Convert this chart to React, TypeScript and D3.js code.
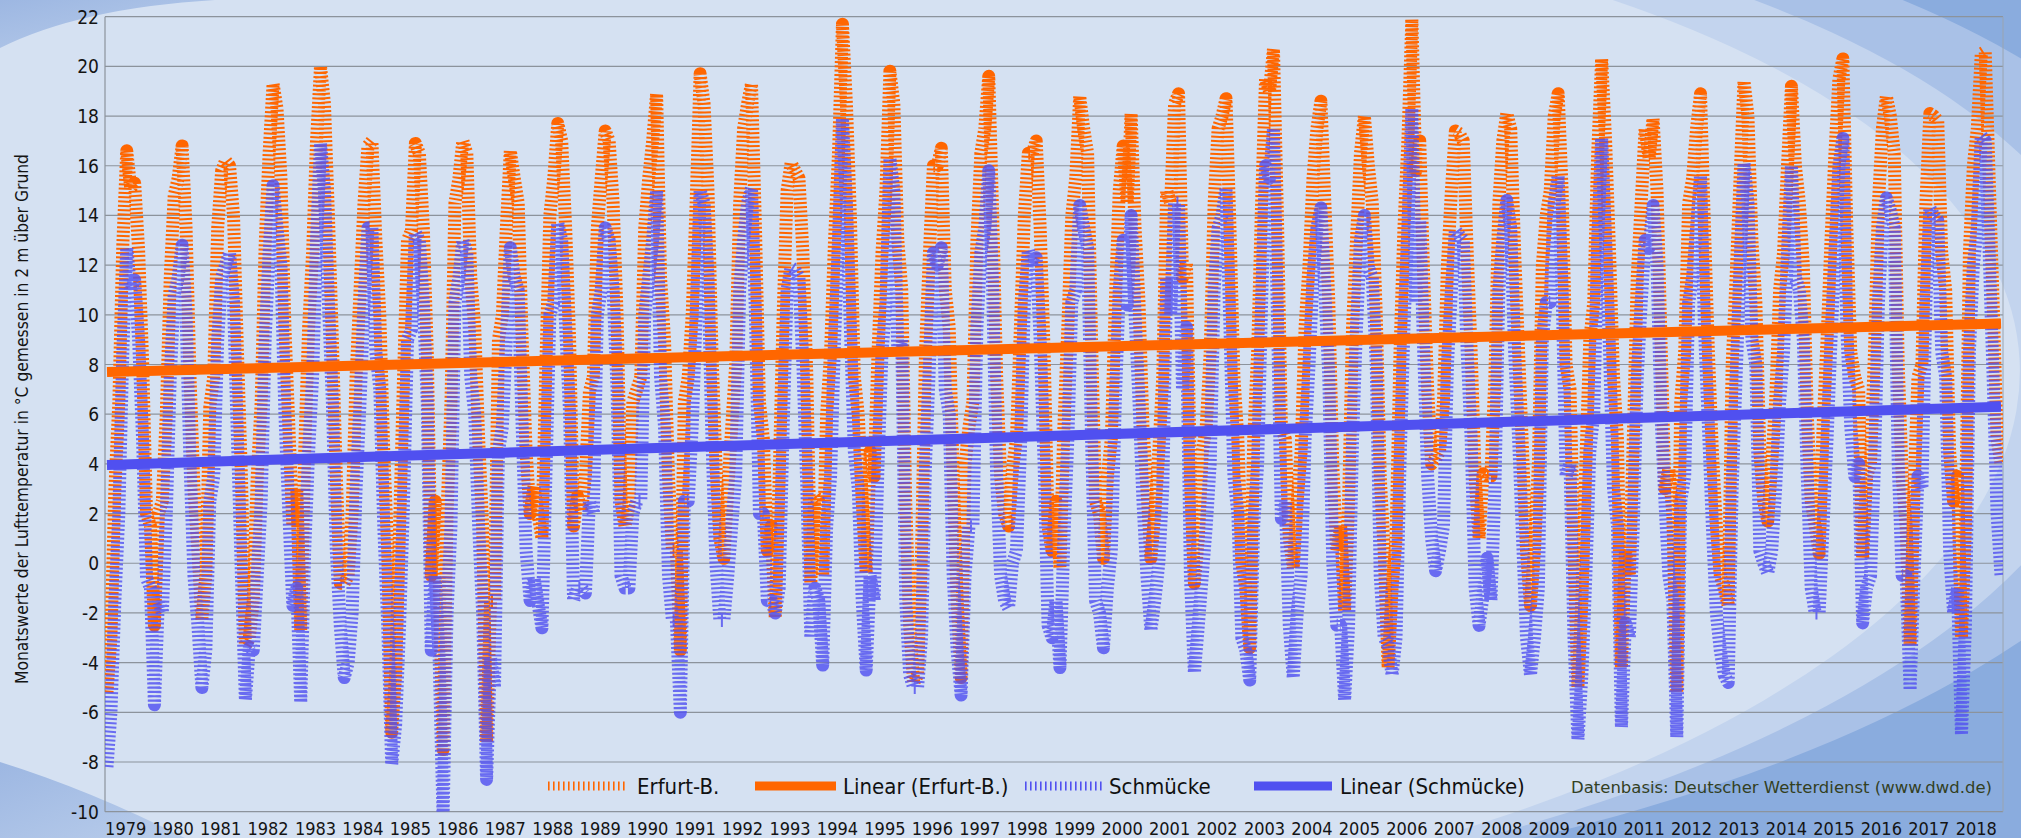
import React from "react";
import * as d3 from "d3";

// ---------- DATA (monthly means, °C) ----------
const yearLabels = ["1979","1980","1981","1982","1983","1984","1985","1986","1987","1988","1989","1990","1991","1992","1993","1994","1995","1996","1997","1998","1999","2000","2001","2002","2003","2004","2005","2006","2007","2008","2009","2010","2011","2012","2013","2014","2015","2016","2017","2018"];

const yTicks = [-10, -8, -6, -4, -2, 0, 2, 4, 6, 8, 10, 12, 14, 16, 18, 20, 22];

const erfurtByYear = [
  [-5.2, -3.0, 3.0, 6.5, 12.8, 16.6, 15.1, 15.3, 12.6, 8.2, 2.0, 1.5],
  [-2.5, 2.0, 2.5, 6.0, 11.5, 14.8, 15.5, 16.8, 13.5, 7.5, 3.0, 0.5],
  [-2.3, -0.5, 6.3, 7.5, 13.5, 15.8, 16.2, 16.0, 14.0, 8.5, 3.5, -3.3],
  [-3.0, -1.5, 3.5, 6.5, 12.8, 16.5, 19.3, 18.3, 15.5, 9.5, 5.5, 1.5],
  [3.0, -2.7, 4.5, 9.5, 12.5, 17.0, 20.0, 18.5, 14.0, 9.0, 3.5, -0.8],
  [-0.8, -0.5, 2.0, 7.5, 11.0, 14.5, 16.8, 17.0, 13.0, 10.0, 4.5, 0.5],
  [-6.8, -4.5, 1.5, 7.5, 13.0, 13.4, 16.9, 16.5, 13.5, 8.5, -0.5, 2.5],
  [-0.5, -7.5, 2.0, 6.5, 14.5, 15.5, 17.0, 16.5, 11.5, 9.5, 5.0, 1.5],
  [-7.2, -1.5, -1.5, 9.0, 10.0, 13.5, 16.6, 15.5, 14.5, 9.0, 4.5, 2.0],
  [3.1, 2.0, 1.0, 8.0, 14.0, 15.5, 17.7, 17.0, 13.5, 9.0, 1.5, 2.7],
  [2.1, 3.5, 6.9, 7.5, 13.5, 15.5, 17.4, 17.0, 14.5, 10.0, 2.5, 1.5],
  [2.3, 6.5, 7.0, 7.5, 13.5, 15.5, 17.0, 18.9, 11.5, 9.0, 3.5, 0.5],
  [0.5, -3.5, 6.5, 7.5, 10.0, 14.5, 19.7, 18.5, 15.0, 8.5, 4.0, 1.0],
  [0.2, 3.0, 5.5, 8.0, 14.5, 17.5, 18.5, 19.3, 13.5, 6.5, 5.0, 0.5],
  [1.5, -2.2, 3.5, 10.0, 15.0, 16.1, 15.8, 15.5, 12.5, 7.5, -0.8, 2.7],
  [2.5, -0.5, 6.0, 8.5, 13.0, 16.5, 21.7, 18.5, 14.0, 7.5, 6.0, 2.5],
  [-0.4, 4.5, 3.5, 8.5, 12.5, 15.0, 19.8, 18.5, 13.0, 11.0, 2.5, -2.5],
  [-4.8, -4.5, 0.5, 8.5, 12.5, 16.0, 16.0, 16.7, 11.0, 9.5, 3.5, -1.5],
  [-4.6, 4.0, 5.5, 6.5, 13.0, 16.5, 17.5, 19.6, 14.0, 7.5, 3.5, 2.0],
  [1.5, 3.8, 5.0, 9.5, 14.0, 16.5, 16.5, 17.0, 13.5, 8.5, 1.5, 0.5],
  [2.5, -0.2, 5.5, 9.5, 14.0, 15.5, 18.8, 17.5, 16.5, 9.0, 2.5, 2.0],
  [0.2, 3.5, 5.0, 10.5, 15.0, 16.8, 14.5, 18.1, 13.5, 10.5, 5.5, 3.0],
  [0.2, 2.0, 4.5, 7.5, 15.0, 14.5, 18.5, 18.9, 11.5, 12.1, 3.5, -0.8],
  [1.0, 4.5, 5.5, 8.5, 14.5, 17.5, 18.0, 18.7, 13.5, 7.5, 5.0, 0.0],
  [-1.0, -3.4, 5.0, 8.5, 14.5, 19.5, 19.0, 20.7, 14.0, 5.5, 5.0, 1.0],
  [-0.2, 2.5, 4.5, 9.5, 12.0, 15.5, 17.5, 18.6, 14.5, 10.5, 4.0, 0.5],
  [1.5, -1.9, 2.5, 9.5, 13.0, 16.5, 18.0, 16.0, 14.5, 10.0, 3.5, 0.5],
  [-4.2, -1.0, 1.0, 8.5, 13.5, 17.0, 21.9, 15.8, 17.0, 11.5, 7.0, 4.0],
  [4.2, 4.5, 6.5, 12.0, 15.0, 17.4, 17.3, 17.0, 12.5, 8.5, 3.5, 1.0],
  [3.6, 3.5, 3.5, 7.5, 14.5, 17.0, 18.1, 17.5, 12.5, 8.5, 4.5, 0.5],
  [-1.7, 0.5, 4.0, 12.0, 14.0, 15.0, 18.0, 18.9, 15.0, 8.0, 7.0, 0.5],
  [-5.0, -1.5, 4.0, 9.0, 10.5, 16.5, 20.3, 17.0, 12.5, 7.5, 5.0, -4.2],
  [0.5, -0.5, 5.0, 11.5, 14.5, 17.5, 16.3, 17.9, 15.0, 9.0, 3.0, 3.8],
  [2.0, -5.2, 6.5, 8.5, 14.5, 15.5, 17.5, 18.9, 13.5, 8.5, 4.5, 1.5],
  [-0.5, -1.0, -1.7, 8.0, 11.5, 15.5, 19.4, 18.0, 13.0, 10.5, 4.5, 2.5],
  [1.7, 4.0, 6.5, 11.0, 12.5, 16.0, 19.2, 16.0, 14.5, 12.0, 6.0, 2.5],
  [1.5, 0.4, 5.5, 9.0, 13.0, 16.5, 19.5, 20.3, 13.5, 8.5, 7.5, 7.0],
  [0.2, 3.5, 4.0, 8.5, 14.5, 17.5, 18.8, 18.0, 16.5, 8.0, 3.5, 1.5],
  [-3.3, 3.0, 7.5, 8.0, 14.5, 18.1, 18.0, 17.8, 12.5, 11.0, 4.5, 2.5],
  [3.5, -3.0, 1.5, 12.5, 16.0, 17.5, 20.5, 20.6, 15.5, 10.5, 5.0, 4.0],
];

const schmueckeByYear = [
  [-8.2, -6.0, -1.5, 2.0, 8.5, 12.7, 11.0, 11.4, 9.0, 5.0, -0.6, -1.0],
  [-5.7, -1.5, -2.0, 2.0, 7.5, 10.8, 11.5, 12.8, 10.0, 4.0, -0.5, -2.5],
  [-5.0, -3.5, 2.5, 3.5, 9.0, 11.5, 12.0, 12.5, 10.5, 5.0, -0.5, -5.5],
  [-3.4, -3.5, -0.5, 2.5, 9.0, 12.5, 15.2, 13.5, 12.0, 6.0, 2.0, -1.7],
  [-1.0, -5.6, 0.5, 4.5, 7.5, 13.0, 16.9, 15.0, 10.5, 6.5, 0.5, -2.5],
  [-4.6, -4.0, -2.0, 3.0, 6.5, 10.5, 13.5, 13.5, 8.5, 7.0, 1.5, -2.5],
  [-8.1, -6.5, -2.5, 2.5, 9.0, 9.4, 13.3, 13.0, 10.5, 6.5, -3.5, -0.5],
  [-3.8, -10.2, -2.0, 1.5, 10.5, 11.5, 13.0, 12.5, 7.5, 6.0, 1.5, -2.0],
  [-8.7, -3.8, -5.0, 4.5, 5.5, 9.0, 12.7, 11.5, 11.0, 5.5, 0.5, -1.5],
  [-0.6, -1.6, -2.6, 3.5, 10.0, 10.5, 13.7, 13.0, 9.5, 6.0, -1.5, -1.0],
  [-1.0, -1.2, 2.5, 2.0, 10.0, 11.0, 13.5, 13.0, 11.0, 7.0, -0.5, -1.0],
  [-1.0, 2.0, 2.5, 2.5, 10.0, 11.5, 13.0, 15.0, 7.5, 5.5, -0.5, -2.3],
  [-2.3, -6.0, 2.5, 2.5, 5.5, 10.0, 15.0, 14.5, 11.5, 5.0, 0.0, -2.3],
  [-2.3, -0.5, 1.5, 3.5, 11.0, 13.0, 14.5, 15.1, 10.0, 2.0, 2.0, -1.5],
  [-1.5, -2.0, -1.0, 5.5, 11.0, 11.9, 11.8, 11.5, 8.0, 3.0, -3.0, -1.0],
  [-1.5, -4.1, 1.5, 3.5, 9.0, 13.0, 17.9, 14.5, 9.5, 4.5, 3.0, -1.5],
  [-4.3, -0.5, -1.5, 4.0, 8.5, 10.5, 16.3, 15.0, 8.5, 9.0, -1.5, -4.5],
  [-5.0, -5.0, -3.0, 4.0, 8.0, 12.5, 12.0, 12.7, 7.0, 6.0, -0.5, -3.5],
  [-5.3, -0.5, 1.5, 1.5, 9.5, 12.5, 13.5, 15.8, 11.0, 3.5, -0.5, -1.5],
  [-1.8, 0.0, 0.5, 4.5, 10.5, 12.6, 12.0, 12.3, 9.0, 4.0, -2.5, -3.0],
  [-1.5, -4.2, 1.0, 5.0, 10.5, 11.0, 14.4, 13.5, 12.7, 5.0, -1.5, -2.0],
  [-3.4, -1.0, 0.5, 6.5, 11.0, 13.0, 10.4, 14.0, 10.0, 6.5, 2.5, -0.5],
  [-2.7, -1.5, 0.0, 3.0, 11.5, 10.0, 14.5, 14.5, 7.0, 9.5, -0.5, -4.4],
  [-2.5, -0.5, 1.5, 4.0, 11.0, 13.5, 14.0, 15.1, 9.5, 3.5, 2.0, -3.0],
  [-3.5, -4.7, 1.5, 4.0, 10.5, 16.0, 15.5, 17.5, 10.0, 1.8, 2.5, -2.5],
  [-4.6, -2.0, -0.5, 5.0, 8.0, 11.5, 13.5, 14.3, 11.0, 7.5, 0.0, -2.5],
  [-2.5, -5.5, -2.5, 5.0, 9.5, 13.0, 14.0, 11.9, 11.5, 8.0, -0.5, -3.0],
  [-3.3, -4.5, -3.0, 4.0, 9.5, 13.5, 18.3, 10.5, 13.8, 8.5, 3.5, 1.0],
  [-0.3, 0.5, 1.5, 8.0, 11.0, 13.4, 13.2, 13.0, 8.5, 5.0, -1.0, -2.5],
  [-1.3, 0.2, -1.5, 3.0, 11.0, 13.0, 14.6, 13.5, 8.5, 5.0, 1.0, -3.0],
  [-4.5, -3.0, -1.0, 9.0, 10.5, 10.5, 14.5, 15.6, 11.0, 3.5, 4.0, -3.0],
  [-7.1, -4.5, -0.5, 4.5, 6.0, 13.0, 17.1, 13.0, 8.5, 3.0, 1.5, -6.6],
  [-2.4, -3.0, 1.5, 7.5, 10.5, 13.0, 12.7, 14.4, 12.0, 6.0, 2.5, -0.5],
  [-1.5, -7.0, 2.5, 3.5, 10.5, 11.5, 13.5, 15.6, 9.5, 5.5, 1.5, -2.0],
  [-3.5, -4.5, -4.8, 3.0, 7.5, 12.0, 16.1, 14.5, 9.0, 8.0, 0.5, 0.0],
  [-0.4, 0.5, 3.0, 6.5, 8.5, 12.5, 16.0, 11.5, 11.0, 9.0, 3.5, -1.0],
  [-2.0, -2.0, 1.5, 5.0, 9.0, 12.5, 16.0, 17.1, 9.5, 5.5, 3.5, 4.0],
  [-2.4, -1.0, -0.5, 4.0, 10.5, 13.5, 14.7, 14.2, 13.5, 4.0, -0.5, -0.5],
  [-5.1, -0.5, 3.5, 3.0, 10.5, 14.3, 14.0, 13.8, 8.5, 7.5, 0.5, -2.0],
  [-1.0, -6.9, -2.5, 8.5, 12.0, 13.5, 17.2, 17.0, 12.5, 7.5, 2.0, -0.5],
];

// linear trend values at first and last month
const trendErfurt = [7.7, 9.65];
const trendSchmuecke = [3.96, 6.3];

const seriesNames = ["Erfurt-B.", "Linear (Erfurt-B.)", "Schmücke", "Linear (Schmücke)"];
const sourceNote = "Datenbasis: Deutscher Wetterdienst (www.dwd.de)";
const yTitle = "Monatswerte der Lufttemperatur in °C gemessen in 2 m über Grund";

// ---------- LAYOUT ----------
const W = 2021, H = 838;
const L = 105, R = 2003, T = 16.7, B = 811.7;
const ORANGE = "#ff6600";
const BLUE = "#5050f0";
const FONT = "'DejaVu Sans Condensed', 'DejaVu Sans', sans-serif";

function ellipseHolePath(cx: number, cy: number, rx: number, ry: number, rotDeg: number) {
  const t = (rotDeg * Math.PI) / 180;
  const x1 = cx + rx * Math.cos(t), y1 = cy + rx * Math.sin(t);
  const x2 = cx - rx * Math.cos(t), y2 = cy - rx * Math.sin(t);
  return `M0,0H${W}V${H}H0Z M${x1},${y1} A${rx},${ry} ${rotDeg} 1 0 ${x2},${y2} A${rx},${ry} ${rotDeg} 1 0 ${x1},${y1}Z`;
}

export default function App() {
  const erfurt = erfurtByYear.flat();
  const schmuecke = schmueckeByYear.flat();
  const n = erfurt.length;

  const x = d3.scaleLinear().domain([0, n]).range([L, R]);
  const y = d3.scaleLinear().domain([-10, 22]).range([B, T]);

  const line = d3
    .line<number>()
    .x((_, i) => x(i + 0.5))
    .y((d) => y(d));

  const trendLine = (vals: number[]) =>
    d3.line<number>()
      .x((_, i) => x(i === 0 ? 0.5 : n - 0.5))
      .y((d) => y(d))(vals) || "";

  const yearW = (R - L) / yearLabels.length;

  return (
    <svg
      width={W}
      height={H}
      style={{ position: "fixed", left: 0, top: 0, display: "block" }}
      xmlns="http://www.w3.org/2000/svg"
    >
      <defs>
        <clipPath id="plotClip">
          <rect x={L} y={T - 12} width={R - L} height={B - T + 12} />
        </clipPath>
        <clipPath id="rightClip">
          <rect x={1000} y={0} width={W - 1000} height={H} />
        </clipPath>
        <linearGradient id="cornerGrad" x1="0" y1="0" x2="1" y2="1">
          <stop offset="0" stopColor="#9db7e2" />
          <stop offset="1" stopColor="#b9cdeb" />
        </linearGradient>
      </defs>

      {/* background */}
      <rect x={0} y={0} width={W} height={H} fill="#d5e1f2" />
      <g clipPath="url(#rightClip)">
        <path d={ellipseHolePath(823, 419, 1198, 515, -2.8)} fill="#c3d4ee" fillRule="evenodd" />
        <path d={ellipseHolePath(923, 404, 1198, 515, -2.8)} fill="#a9c1e7" fillRule="evenodd" />
        <path d={ellipseHolePath(1033, 389, 1198, 515, -2.8)} fill="#8aacde" fillRule="evenodd" />
      </g>
      <path d="M0,0 L215,0 Q80,8 0,48 Z" fill="url(#cornerGrad)" />
      <path d="M0,762 Q90,790 185,838 L0,838 Z" fill="url(#cornerGrad)" />

      {/* gridlines */}
      {yTicks.map((t) => (
        <line key={t} x1={L} x2={R} y1={y(t)} y2={y(t)} stroke="#8c939c" strokeWidth={1.2} />
      ))}
      <line x1={L} x2={L} y1={T} y2={B} stroke="#8c939c" strokeWidth={1.2} />
      <line x1={R} x2={R} y1={T} y2={B} stroke="#9aa4b0" strokeWidth={1} />

      {/* y tick labels */}
      {yTicks.map((t) => (
        <text
          key={"l" + t}
          x={99}
          y={y(t)}
          dominantBaseline="central"
          textAnchor="end"
          fontFamily={FONT}
          fontSize={19}
          fill="#141414"
        >
          {t}
        </text>
      ))}

      {/* x labels */}
      {yearLabels.map((lab, k) => (
        <text
          key={lab}
          x={L + (k + 0.5) * yearW - 3}
          y={835}
          textAnchor="middle"
          fontFamily={FONT}
          fontSize={18}
          fill="#141414"
        >
          {lab}
        </text>
      ))}

      {/* y title */}
      <text
        transform={`translate(28,419) rotate(-90)`}
        textAnchor="middle"
        fontFamily={FONT}
        fontSize={17.5}
        fill="#141414"
        textLength={530}
        lengthAdjust="spacingAndGlyphs"
      >
        {yTitle}
      </text>

      {/* series */}
      <g clipPath="url(#plotClip)">
        <path
          d={line(erfurt) || ""}
          fill="none"
          stroke={ORANGE}
          strokeWidth={13}
          strokeDasharray="2 2.3"
          strokeLinejoin="round"
        />
        <path
          d={line(schmuecke) || ""}
          fill="none"
          stroke={BLUE}
          strokeOpacity={0.82}
          strokeWidth={13}
          strokeDasharray="2 2.3"
          strokeLinejoin="round"
        />
        <path d={trendLine(trendErfurt)} stroke={ORANGE} strokeWidth={10} fill="none" />
        <path d={trendLine(trendSchmuecke)} stroke={BLUE} strokeWidth={10} fill="none" />
      </g>

      {/* legend */}
      <g fontFamily={FONT} fontSize={22} fill="#111">
        <line x1={548} x2={628} y1={786} y2={786} stroke={ORANGE} strokeWidth={9} strokeDasharray="1.6 3.4" />
        <text x={637} y={794}>{seriesNames[0]}</text>
        <line x1={755} x2={836} y1={786} y2={786} stroke={ORANGE} strokeWidth={9} />
        <text x={843} y={794}>{seriesNames[1]}</text>
        <line x1={1025} x2={1102} y1={786} y2={786} stroke={BLUE} strokeWidth={9} strokeDasharray="1.6 3.4" />
        <text x={1109} y={794}>{seriesNames[2]}</text>
        <line x1={1254} x2={1332} y1={786} y2={786} stroke={BLUE} strokeWidth={9} />
        <text x={1340} y={794}>{seriesNames[3]}</text>
      </g>
      <text
        x={1571}
        y={793}
        fontFamily="'DejaVu Sans', sans-serif"
        fontSize={16}
        fill="#33401f"
        textLength={421}
        lengthAdjust="spacingAndGlyphs"
      >
        {sourceNote}
      </text>
    </svg>
  );
}
